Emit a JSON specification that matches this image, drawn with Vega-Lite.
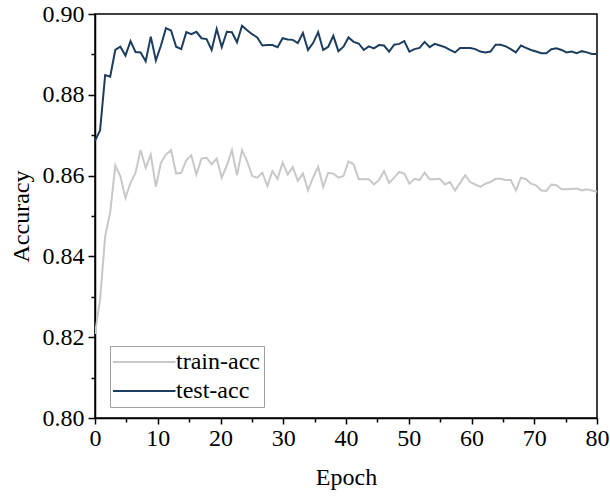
{
"$schema": "https://vega.github.io/schema/vega-lite/v6.json",
"width": 502, "height": 404,
"autosize": {"type": "none"},
"padding": {"left": 95, "top": 14, "right": 13, "bottom": 84},
"background": "white",
"config": {"view": {"stroke": "black", "strokeWidth": 1.5}, "font": "Liberation Serif"},
"data": {"values": [
{"epoch":0,"train-acc":0.8208,"test-acc":0.8686},
{"epoch":0.81,"train-acc":0.8293,"test-acc":0.8712},
{"epoch":1.62,"train-acc":0.8450,"test-acc":0.8849},
{"epoch":2.42,"train-acc":0.8509,"test-acc":0.8845},
{"epoch":3.23,"train-acc":0.8625,"test-acc":0.8911},
{"epoch":4.04,"train-acc":0.8599,"test-acc":0.8919},
{"epoch":4.85,"train-acc":0.8545,"test-acc":0.8897},
{"epoch":5.66,"train-acc":0.8582,"test-acc":0.8933},
{"epoch":6.46,"train-acc":0.8607,"test-acc":0.8906},
{"epoch":7.27,"train-acc":0.8663,"test-acc":0.8905},
{"epoch":8.08,"train-acc":0.8619,"test-acc":0.8883},
{"epoch":8.89,"train-acc":0.8652,"test-acc":0.8944},
{"epoch":9.70,"train-acc":0.8572,"test-acc":0.8885},
{"epoch":10.51,"train-acc":0.8632,"test-acc":0.8922},
{"epoch":11.31,"train-acc":0.8652,"test-acc":0.8965},
{"epoch":12.12,"train-acc":0.8663,"test-acc":0.8959},
{"epoch":12.93,"train-acc":0.8605,"test-acc":0.8919},
{"epoch":13.74,"train-acc":0.8607,"test-acc":0.8913},
{"epoch":14.55,"train-acc":0.8638,"test-acc":0.8955},
{"epoch":15.35,"train-acc":0.8650,"test-acc":0.8950},
{"epoch":16.16,"train-acc":0.8603,"test-acc":0.8956},
{"epoch":16.97,"train-acc":0.8642,"test-acc":0.8940},
{"epoch":17.78,"train-acc":0.8644,"test-acc":0.8938},
{"epoch":18.59,"train-acc":0.8628,"test-acc":0.8911},
{"epoch":19.39,"train-acc":0.8642,"test-acc":0.8963},
{"epoch":20.20,"train-acc":0.8595,"test-acc":0.8918},
{"epoch":21.01,"train-acc":0.8625,"test-acc":0.8956},
{"epoch":21.82,"train-acc":0.8663,"test-acc":0.8955},
{"epoch":22.63,"train-acc":0.8601,"test-acc":0.8930},
{"epoch":23.43,"train-acc":0.8663,"test-acc":0.8971},
{"epoch":24.24,"train-acc":0.8636,"test-acc":0.8960},
{"epoch":25.05,"train-acc":0.8599,"test-acc":0.8950},
{"epoch":25.86,"train-acc":0.8595,"test-acc":0.8942},
{"epoch":26.67,"train-acc":0.8607,"test-acc":0.8922},
{"epoch":27.47,"train-acc":0.8574,"test-acc":0.8923},
{"epoch":28.28,"train-acc":0.8611,"test-acc":0.8923},
{"epoch":29.09,"train-acc":0.8592,"test-acc":0.8918},
{"epoch":29.90,"train-acc":0.8632,"test-acc":0.8940},
{"epoch":30.71,"train-acc":0.8603,"test-acc":0.8937},
{"epoch":31.52,"train-acc":0.8621,"test-acc":0.8936},
{"epoch":32.32,"train-acc":0.8587,"test-acc":0.8928},
{"epoch":33.13,"train-acc":0.8605,"test-acc":0.8953},
{"epoch":33.94,"train-acc":0.8564,"test-acc":0.8911},
{"epoch":34.75,"train-acc":0.8595,"test-acc":0.8928},
{"epoch":35.56,"train-acc":0.8622,"test-acc":0.8955},
{"epoch":36.36,"train-acc":0.8572,"test-acc":0.8911},
{"epoch":37.17,"train-acc":0.8607,"test-acc":0.8919},
{"epoch":37.98,"train-acc":0.8605,"test-acc":0.8946},
{"epoch":38.79,"train-acc":0.8595,"test-acc":0.8908},
{"epoch":39.60,"train-acc":0.8599,"test-acc":0.8919},
{"epoch":40.40,"train-acc":0.8635,"test-acc":0.8942},
{"epoch":41.21,"train-acc":0.8628,"test-acc":0.8931},
{"epoch":42.02,"train-acc":0.8591,"test-acc":0.8927},
{"epoch":42.83,"train-acc":0.8591,"test-acc":0.8911},
{"epoch":43.64,"train-acc":0.8591,"test-acc":0.8920},
{"epoch":44.44,"train-acc":0.8578,"test-acc":0.8915},
{"epoch":45.25,"train-acc":0.8589,"test-acc":0.8923},
{"epoch":46.06,"train-acc":0.8611,"test-acc":0.8922},
{"epoch":46.87,"train-acc":0.8582,"test-acc":0.8907},
{"epoch":47.68,"train-acc":0.8595,"test-acc":0.8924},
{"epoch":48.48,"train-acc":0.8609,"test-acc":0.8926},
{"epoch":49.29,"train-acc":0.8605,"test-acc":0.8933},
{"epoch":50.10,"train-acc":0.8580,"test-acc":0.8907},
{"epoch":50.91,"train-acc":0.8592,"test-acc":0.8913},
{"epoch":51.72,"train-acc":0.8589,"test-acc":0.8916},
{"epoch":52.53,"train-acc":0.8607,"test-acc":0.8931},
{"epoch":53.33,"train-acc":0.8591,"test-acc":0.8918},
{"epoch":54.14,"train-acc":0.8591,"test-acc":0.8926},
{"epoch":54.95,"train-acc":0.8592,"test-acc":0.8922},
{"epoch":55.76,"train-acc":0.8578,"test-acc":0.8918},
{"epoch":56.57,"train-acc":0.8584,"test-acc":0.8911},
{"epoch":57.37,"train-acc":0.8563,"test-acc":0.8905},
{"epoch":58.18,"train-acc":0.8582,"test-acc":0.8916},
{"epoch":58.99,"train-acc":0.8601,"test-acc":0.8916},
{"epoch":59.80,"train-acc":0.8584,"test-acc":0.8916},
{"epoch":60.61,"train-acc":0.8578,"test-acc":0.8913},
{"epoch":61.41,"train-acc":0.8572,"test-acc":0.8907},
{"epoch":62.22,"train-acc":0.8580,"test-acc":0.8905},
{"epoch":63.03,"train-acc":0.8584,"test-acc":0.8907},
{"epoch":63.84,"train-acc":0.8592,"test-acc":0.8924},
{"epoch":64.65,"train-acc":0.8592,"test-acc":0.8924},
{"epoch":65.45,"train-acc":0.8589,"test-acc":0.8920},
{"epoch":66.26,"train-acc":0.8589,"test-acc":0.8913},
{"epoch":67.07,"train-acc":0.8563,"test-acc":0.8905},
{"epoch":67.88,"train-acc":0.8595,"test-acc":0.8922},
{"epoch":68.69,"train-acc":0.8591,"test-acc":0.8916},
{"epoch":69.49,"train-acc":0.8580,"test-acc":0.8911},
{"epoch":70.30,"train-acc":0.8576,"test-acc":0.8907},
{"epoch":71.11,"train-acc":0.8563,"test-acc":0.8903},
{"epoch":71.92,"train-acc":0.8562,"test-acc":0.8903},
{"epoch":72.73,"train-acc":0.8578,"test-acc":0.8913},
{"epoch":73.54,"train-acc":0.8576,"test-acc":0.8915},
{"epoch":74.34,"train-acc":0.8566,"test-acc":0.8911},
{"epoch":75.15,"train-acc":0.8566,"test-acc":0.8905},
{"epoch":75.96,"train-acc":0.8567,"test-acc":0.8907},
{"epoch":76.77,"train-acc":0.8568,"test-acc":0.8903},
{"epoch":77.58,"train-acc":0.8563,"test-acc":0.8908},
{"epoch":78.38,"train-acc":0.8566,"test-acc":0.8905},
{"epoch":79.19,"train-acc":0.8563,"test-acc":0.8901},
{"epoch":80,"train-acc":0.8560,"test-acc":0.8901}
]},
"transform": [{"fold": ["train-acc", "test-acc"], "as": ["series", "acc"]}],
"mark": {"type": "line", "strokeWidth": 2, "clip": true},
"encoding": {
  "x": {"field": "epoch", "type": "quantitative",
    "scale": {"domain": [0, 80], "nice": false, "zero": false},
    "axis": {"title": "Epoch", "grid": false,
      "values": [0,5,10,15,20,25,30,35,40,45,50,55,60,65,70,75,80],
      "labelExpr": "datum.value % 10 === 0 ? datum.label : ''",
      "tickSize": {"condition": {"test": "datum.value % 10 === 0", "value": 6}, "value": 4},
      "domainColor": "black", "domainWidth": 1.5, "tickColor": "black", "tickWidth": 1.5,
      "labelFontSize": 24, "labelColor": "black", "labelPadding": 2, "labelFlush": false,
      "titleFontSize": 24, "titleFontWeight": "normal", "titleColor": "black", "titlePadding": 15}},
  "y": {"field": "acc", "type": "quantitative",
    "scale": {"domain": [0.8, 0.9], "nice": false, "zero": false},
    "axis": {"title": "Accuracy", "grid": false,
      "values": [0.80,0.81,0.82,0.83,0.84,0.85,0.86,0.87,0.88,0.89,0.90],
      "labelExpr": "round(datum.value*100) % 2 === 0 ? format(datum.value, '.2f') : ''",
      "tickSize": {"condition": {"test": "round(datum.value*100) % 2 === 0", "value": 7}, "value": 4},
      "domainColor": "black", "domainWidth": 1.5, "tickColor": "black", "tickWidth": 1.5,
      "labelFontSize": 24, "labelColor": "black", "labelPadding": 4, "labelFlush": false,
      "titleFontSize": 24, "titleFontWeight": "normal", "titleColor": "black", "titlePadding": 9}},
  "color": {"field": "series", "type": "nominal",
    "scale": {"domain": ["train-acc", "test-acc"], "range": ["#c8c8c8", "#1c3d5e"]},
    "legend": {"title": null, "orient": "none", "legendX": 15, "legendY": 332,
      "symbolType": "M-1.45,0H5.5", "symbolSize": 324, "symbolStrokeWidth": 2,
      "labelFontSize": 24, "labelColor": "black", "labelOffset": 38,
      "strokeColor": "#a0a0a0", "padding": 4, "rowPadding": 5}}
}
}
